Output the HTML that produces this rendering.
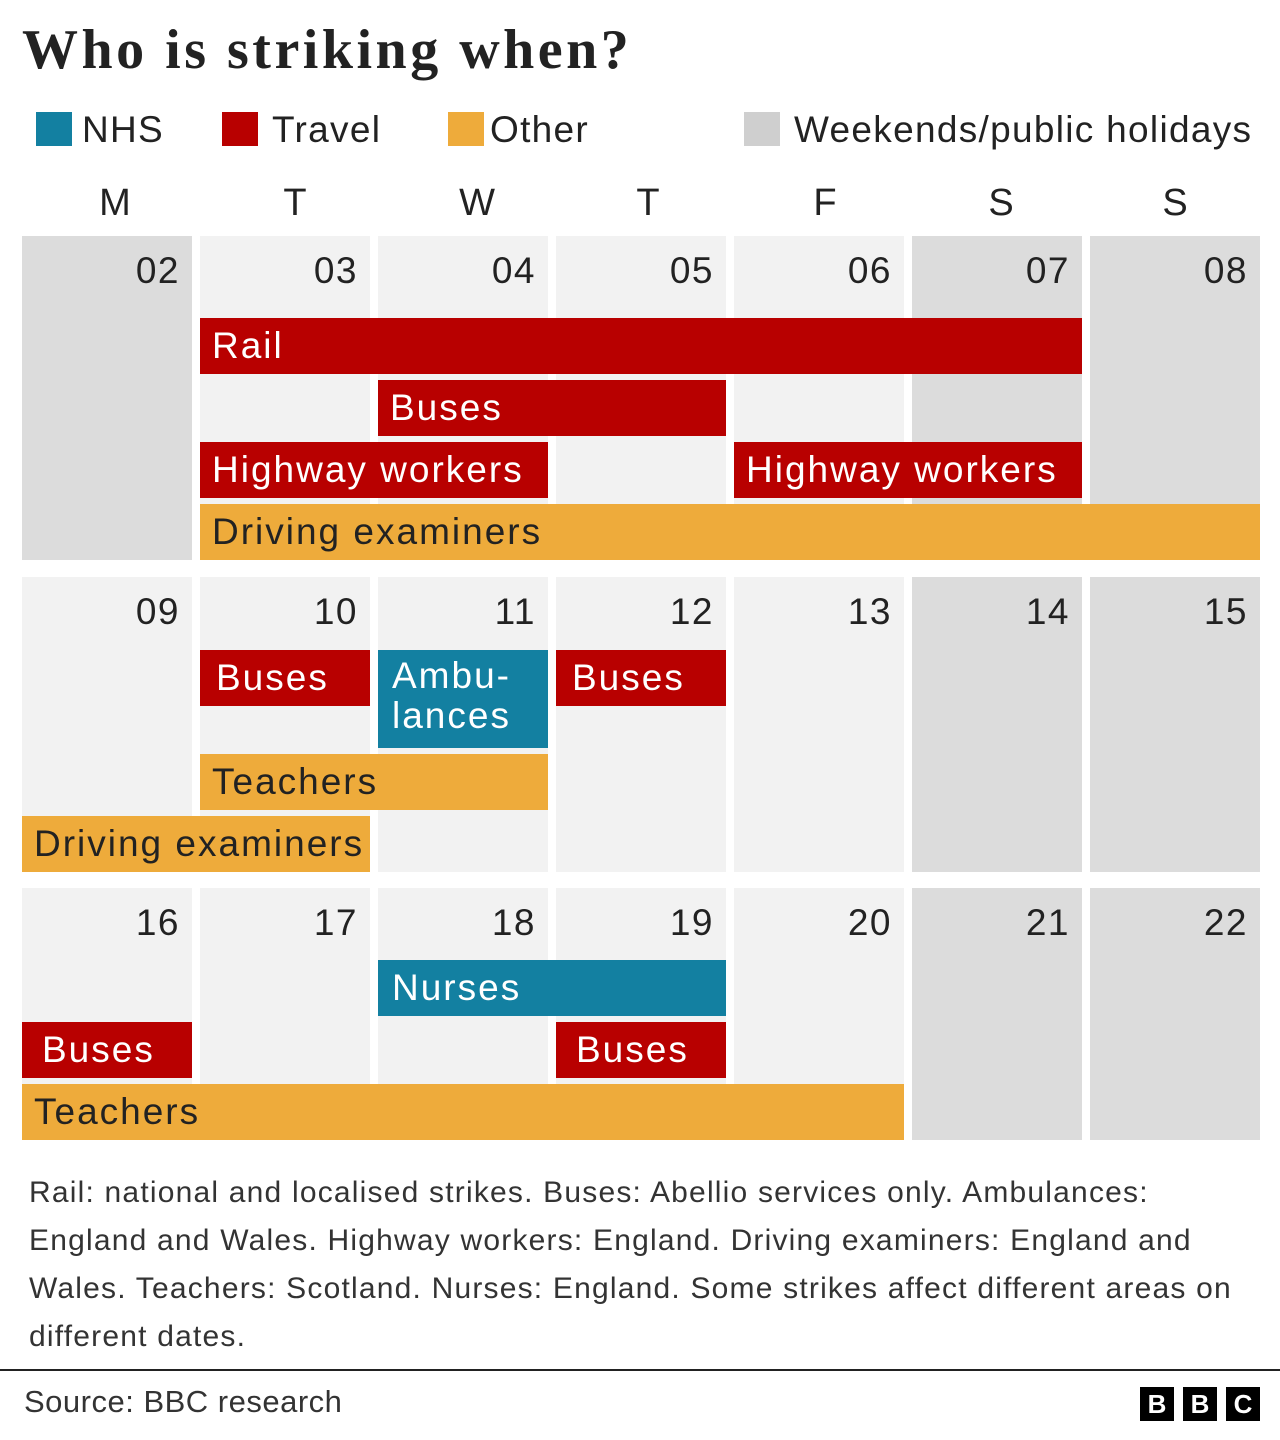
<!DOCTYPE html>
<html><head><meta charset="utf-8"><style>
body{margin:0;width:1280px;height:1440px;background:#fff;position:relative;font-family:"Liberation Sans","DejaVu Sans",sans-serif;color:#222;overflow:hidden}
.a{position:absolute}
.c{position:absolute;background:#f2f2f2}
.w{background:#dcdcdc}
.n{position:absolute;font-size:37px;right:12px;top:14px;color:#222;letter-spacing:1.5px}
.b{position:absolute;height:56px;font-size:37px;line-height:56px;padding-left:12px;box-sizing:border-box;color:#fff;white-space:nowrap;letter-spacing:2px}
.r{background:#b80000}.t{background:#1380a1}.o{background:#eeab3b;color:#222}
.d{position:absolute;top:182px;font-size:38px;width:170px;text-align:center}
.lg{position:absolute;top:110px;font-size:37px;line-height:40px;letter-spacing:1.3px}
.sq{position:absolute;top:112px;width:36px;height:34px}
</style></head><body>
<div class="a" style="left:22px;top:18px;font-family:'Liberation Serif',serif;font-weight:bold;font-size:56px;letter-spacing:3.5px">Who is striking when?</div>
<div class="sq" style="left:36px;background:#1380a1"></div><div class="lg" style="left:82px">NHS</div>
<div class="sq" style="left:222px;background:#b80000"></div><div class="lg" style="left:272px">Travel</div>
<div class="sq" style="left:448px;background:#eeab3b"></div><div class="lg" style="left:490px">Other</div>
<div class="sq" style="left:744px;background:#cfcfcf"></div><div class="lg" style="left:794px">Weekends/public holidays</div>
<div class="d" style="left:30px">M</div><div class="d" style="left:210px">T</div><div class="d" style="left:392px">W</div><div class="d" style="left:563px">T</div><div class="d" style="left:740px">F</div><div class="d" style="left:916px">S</div><div class="d" style="left:1090px">S</div>

<div class="c w" style="left:22px;top:236px;width:170px;height:324px"><span class="n">02</span></div>
<div class="c" style="left:200px;top:236px;width:170px;height:324px"><span class="n">03</span></div>
<div class="c" style="left:378px;top:236px;width:170px;height:324px"><span class="n">04</span></div>
<div class="c" style="left:556px;top:236px;width:170px;height:324px"><span class="n">05</span></div>
<div class="c" style="left:734px;top:236px;width:170px;height:324px"><span class="n">06</span></div>
<div class="c w" style="left:912px;top:236px;width:170px;height:324px"><span class="n">07</span></div>
<div class="c w" style="left:1090px;top:236px;width:170px;height:324px"><span class="n">08</span></div>
<div class="b r" style="left:200px;top:318px;width:882px">Rail</div>
<div class="b r" style="left:378px;top:380px;width:348px">Buses</div>
<div class="b r" style="left:200px;top:442px;width:348px">Highway workers</div>
<div class="b r" style="left:734px;top:442px;width:348px">Highway workers</div>
<div class="b o" style="left:200px;top:504px;width:1060px">Driving examiners</div>

<div class="c" style="left:22px;top:577px;width:170px;height:295px"><span class="n">09</span></div>
<div class="c" style="left:200px;top:577px;width:170px;height:295px"><span class="n">10</span></div>
<div class="c" style="left:378px;top:577px;width:170px;height:295px"><span class="n">11</span></div>
<div class="c" style="left:556px;top:577px;width:170px;height:295px"><span class="n">12</span></div>
<div class="c" style="left:734px;top:577px;width:170px;height:295px"><span class="n">13</span></div>
<div class="c w" style="left:912px;top:577px;width:170px;height:295px"><span class="n">14</span></div>
<div class="c w" style="left:1090px;top:577px;width:170px;height:295px"><span class="n">15</span></div>
<div class="b r" style="left:200px;top:650px;width:170px;padding-left:16px">Buses</div>
<div class="b t" style="left:378px;top:650px;width:170px;height:98px;line-height:40px;padding-top:6px;padding-left:14px">Ambu-<br>lances</div>
<div class="b r" style="left:556px;top:650px;width:170px;padding-left:16px">Buses</div>
<div class="b o" style="left:200px;top:754px;width:348px">Teachers</div>
<div class="b o" style="left:22px;top:816px;width:348px">Driving examiners</div>

<div class="c" style="left:22px;top:888px;width:170px;height:252px"><span class="n">16</span></div>
<div class="c" style="left:200px;top:888px;width:170px;height:252px"><span class="n">17</span></div>
<div class="c" style="left:378px;top:888px;width:170px;height:252px"><span class="n">18</span></div>
<div class="c" style="left:556px;top:888px;width:170px;height:252px"><span class="n">19</span></div>
<div class="c" style="left:734px;top:888px;width:170px;height:252px"><span class="n">20</span></div>
<div class="c w" style="left:912px;top:888px;width:170px;height:252px"><span class="n">21</span></div>
<div class="c w" style="left:1090px;top:888px;width:170px;height:252px"><span class="n">22</span></div>
<div class="b t" style="left:378px;top:960px;width:348px;padding-left:14px">Nurses</div>
<div class="b r" style="left:22px;top:1022px;width:170px;padding-left:20px">Buses</div>
<div class="b r" style="left:556px;top:1022px;width:170px;padding-left:20px">Buses</div>
<div class="b o" style="left:22px;top:1084px;width:882px">Teachers</div>

<div class="a" style="left:29px;top:1169px;width:1260px;font-size:30px;line-height:48px;color:#333;white-space:nowrap;letter-spacing:1.2px">Rail: national and localised strikes. Buses: Abellio services only. Ambulances:<br>England and Wales. Highway workers: England. Driving examiners: England and<br>Wales. Teachers: Scotland. Nurses: England. Some strikes affect different areas on<br>different dates.</div>
<div class="a" style="left:0;top:1369px;width:1280px;height:2px;background:#222"></div>
<div class="a" style="left:24px;top:1384px;font-size:31px;color:#333;letter-spacing:0.5px">Source: BBC research</div>
<div class="a" style="left:1140px;top:1387px;width:34px;height:34px;background:#000;color:#fff;font-weight:bold;font-size:26px;text-align:center;line-height:34px">B</div>
<div class="a" style="left:1183px;top:1387px;width:34px;height:34px;background:#000;color:#fff;font-weight:bold;font-size:26px;text-align:center;line-height:34px">B</div>
<div class="a" style="left:1226px;top:1387px;width:34px;height:34px;background:#000;color:#fff;font-weight:bold;font-size:26px;text-align:center;line-height:34px">C</div>
</body></html>
